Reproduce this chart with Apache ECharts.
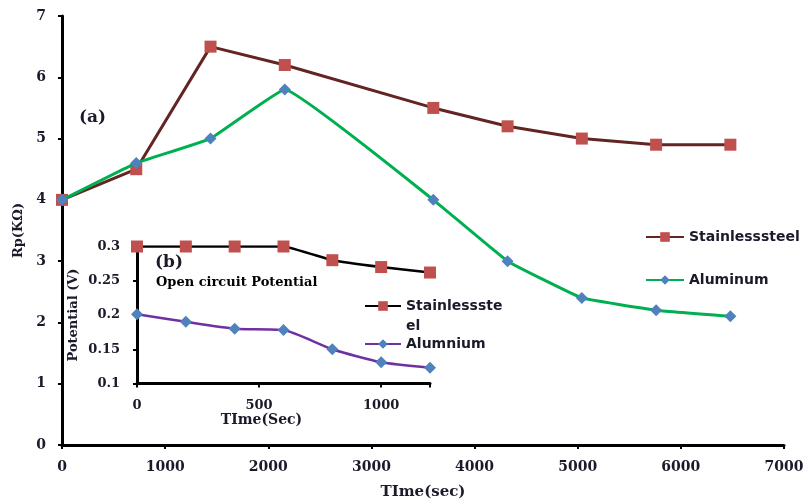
<!DOCTYPE html>
<html><head><meta charset="utf-8">
<script src="https://cdn.jsdelivr.net/npm/echarts@6/dist/echarts.min.js"></script>
<style>html,body{margin:0;padding:0;background:#fff}#c{width:806px;height:502px}</style>
</head><body><div id="c"></div>
<script>
// ---- data ----
const mainTime = [0, 720, 1440, 2160, 3600, 4320, 5040, 5760, 6480];
const mainStainless = [4.0, 4.5, 6.5, 6.2, 5.5, 5.2, 5.0, 4.9, 4.9];
const mainAluminum = [4.0, 4.6, 5.0, 5.8, 4.0, 3.0, 2.4, 2.2, 2.1];
const insetTime = [0, 200, 400, 600, 800, 1000, 1200];
const insetStainless = [0.3, 0.3, 0.3, 0.3, 0.28, 0.27, 0.262];
const insetAluminum = [0.201, 0.19, 0.18, 0.178, 0.15, 0.131, 0.123];
const mainNames = ['Stainlesssteel', 'Aluminum'];
const insetNames = ['Stainlessste\nel', 'Alumnium'];
const mainXTicks = {min: 0, max: 7000, interval: 1000};
const mainYTicks = {min: 0, max: 7, interval: 1};
const insetXTicks = {min: 0, max: 1200, interval: 500};
const insetYTicks = {min: 0.1, max: 0.3, interval: 0.05};

const zip = (xs, ys) => xs.map((x, i) => [x, ys[i]]);
const SERIF = 'DejaVu Serif';
const SANS = 'DejaVu Sans';
const TXT = '#1a1a2a';

const axisCommon = (w) => ({
  axisLine: {show: true, lineStyle: {color: '#000', width: w}},
  axisTick: {show: true, length: 4, lineStyle: {color: '#000', width: 2}},
  splitLine: {show: false}
});

const chart = echarts.init(document.getElementById('c'), null, {renderer: 'canvas'});
chart.setOption({
  backgroundColor: '#fff',
  animation: false,
  grid: [
    {left: 62, right: 22, top: 16, bottom: 57, outerBoundsMode: 'none', containLabel: false},
    {left: 137, right: 376, top: 246.5, bottom: 118.5, outerBoundsMode: 'none', containLabel: false}
  ],
  xAxis: [
    Object.assign({
      type: 'value', gridIndex: 0, min: mainXTicks.min, max: mainXTicks.max, interval: mainXTicks.interval,
      name: 'TIme(sec)', nameLocation: 'middle', nameGap: 40,
      nameTextStyle: {fontFamily: SERIF, fontWeight: 'bold', fontSize: 15, color: TXT},
      axisLabel: {margin: 15, fontFamily: SERIF, fontWeight: 'bold', fontSize: 14, color: TXT,
        formatter: v => String(v)}
    }, axisCommon(3)),
    Object.assign({
      type: 'value', gridIndex: 1, min: insetXTicks.min, max: insetXTicks.max, interval: insetXTicks.interval,
      name: 'TIme(Sec)', nameLocation: 'middle', nameGap: 21,
      nameTextStyle: {fontFamily: SERIF, fontWeight: 'bold', fontSize: 14, color: TXT, padding: [0, 44, 0, 0]},
      axisLabel: {margin: 16, fontFamily: SERIF, fontWeight: 'bold', fontSize: 13, color: TXT,
        formatter: v => (v % insetXTicks.interval === 0 ? String(v) : '')}
    }, axisCommon(3))
  ],
  yAxis: [
    Object.assign({
      type: 'value', gridIndex: 0, min: mainYTicks.min, max: mainYTicks.max, interval: mainYTicks.interval,
      name: 'Rp(KΩ)', nameLocation: 'middle', nameGap: 37, nameRotate: 90,
      nameTextStyle: {fontFamily: SERIF, fontWeight: 'bold', fontSize: 13, color: TXT},
      axisLabel: {margin: 16, fontFamily: SERIF, fontWeight: 'bold', fontSize: 14, color: TXT}
    }, axisCommon(3)),
    Object.assign({
      type: 'value', gridIndex: 1, min: insetYTicks.min, max: insetYTicks.max, interval: insetYTicks.interval,
      name: 'Potential (V)', nameLocation: 'middle', nameGap: 57, nameRotate: 90,
      nameTextStyle: {fontFamily: SERIF, fontWeight: 'bold', fontSize: 13, color: TXT},
      axisLabel: {margin: 17, fontFamily: SERIF, fontWeight: 'bold', fontSize: 13, color: TXT,
        formatter: v => String(Math.round(v * 100) / 100)}
    }, axisCommon(3))
  ],
  legend: [
    {
      data: mainNames, orient: 'vertical', left: 640, top: 225, itemGap: 29,
      itemWidth: 38, itemHeight: 12,
      textStyle: {fontFamily: SANS, fontWeight: 'bold', fontSize: 14, color: TXT}
    },
    {
      data: [insetNames[0]], orient: 'vertical', left: 359, top: 271,
      itemWidth: 36, itemHeight: 12,
      formatter: name => '\n' + name,
      textStyle: {fontFamily: SANS, fontWeight: 'bold', fontSize: 14, color: TXT, lineHeight: 20}
    },
    {
      data: [insetNames[1]], orient: 'vertical', left: 359, top: 332,
      itemWidth: 36, itemHeight: 12,
      textStyle: {fontFamily: SANS, fontWeight: 'bold', fontSize: 14, color: TXT}
    }
  ],
  graphic: [
    {type: 'text', left: 79, top: 109, style: {text: '(a)', font: 'bold 17px "DejaVu Serif"', fill: TXT}},
    {type: 'text', left: 155, top: 254, style: {text: '(b)', font: 'bold 17px "DejaVu Serif"', fill: TXT}},
    {type: 'text', left: 156, top: 276, style: {text: 'Open circuit Potential', font: 'bold 13px "DejaVu Serif"', fill: '#000'}}
  ],
  series: [
    {
      name: mainNames[0], type: 'line', xAxisIndex: 0, yAxisIndex: 0,
      data: zip(mainTime, mainStainless),
      symbol: 'rect', symbolSize: 12,
      lineStyle: {color: '#632523', width: 3},
      itemStyle: {color: '#C0504D'}, z: 3
    },
    {
      name: mainNames[1], type: 'line', xAxisIndex: 0, yAxisIndex: 0,
      data: zip(mainTime, mainAluminum),
      symbol: 'diamond', symbolSize: 12, smooth: 0.08,
      lineStyle: {color: '#00B050', width: 3},
      itemStyle: {color: '#4F81BD'}, z: 4
    },
    {
      name: insetNames[0], type: 'line', xAxisIndex: 1, yAxisIndex: 1,
      data: zip(insetTime, insetStainless),
      symbol: 'rect', symbolSize: 12, smooth: 0.1,
      lineStyle: {color: '#000', width: 2.5},
      itemStyle: {color: '#C0504D'}, z: 3
    },
    {
      name: insetNames[1], type: 'line', xAxisIndex: 1, yAxisIndex: 1,
      data: zip(insetTime, insetAluminum),
      symbol: 'diamond', symbolSize: 12, smooth: 0.2,
      lineStyle: {color: '#7030A0', width: 2.5},
      itemStyle: {color: '#4F81BD'}, z: 4
    }
  ]
});
</script></body></html>
